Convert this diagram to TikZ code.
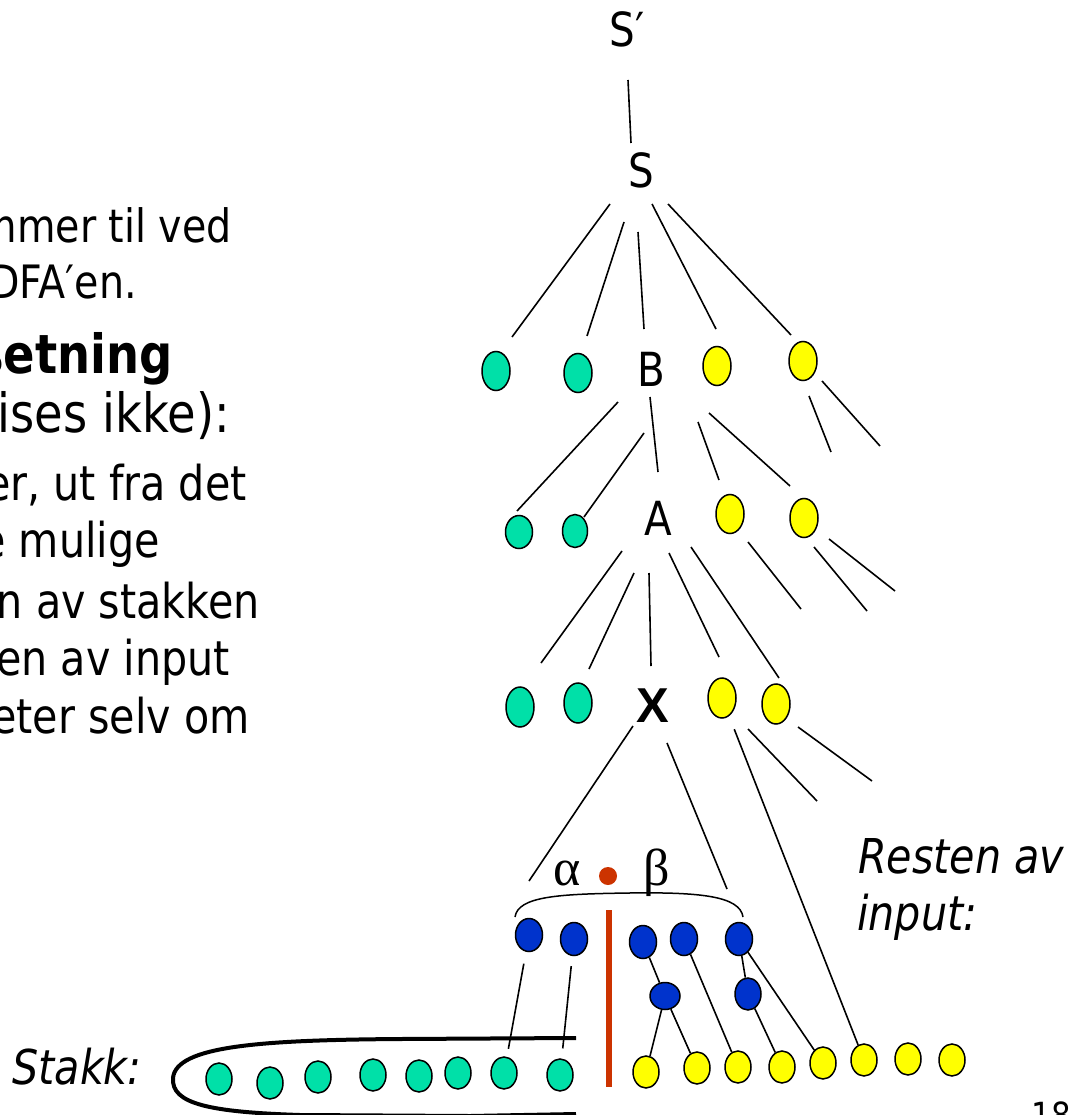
\documentclass[tikz,border=0pt]{standalone}
\usepackage{fontspec}
\setmainfont{DejaVu Sans}[FakeStretch=0.86]
\newfontfamily\grk{Liberation Serif}
\newfontfamily\arl{Liberation Sans}
\usetikzlibrary{shapes.geometric,calc}
\definecolor{tgreen}{HTML}{00E0A8}
\definecolor{tyellow}{HTML}{FFFF00}
\definecolor{tblue}{HTML}{0033CC}
\definecolor{tred}{HTML}{CC3300}
\begin{document}
\begin{tikzpicture}[x=1pt,y=-1pt,
  edge/.style={line width=1.6pt, black},
  oval/.style={ellipse, draw=black, line width=1.5pt, inner sep=0pt, minimum width=28pt, minimum height=39pt},
  gr/.style={oval, fill=tgreen},
  ye/.style={oval, fill=tyellow},
  bl/.style={oval, fill=tblue},
  small/.style={minimum width=26pt, minimum height=32pt},
  lab/.style={font=\fontsize{47}{55}\selectfont, inner sep=0pt, anchor=base},
  bigtxt/.style={font=\fontsize{54}{60}\selectfont, inner sep=0pt, anchor=base east},
  smtxt/.style={font=\fontsize{48}{55}\selectfont, inner sep=0pt, anchor=base east},
  toptxt/.style={font=\fontsize{46}{55}\selectfont, inner sep=0pt, anchor=base east},
  ittxt/.style={font=\fontsize{48}{55}\selectfont\itshape, inner sep=0pt, anchor=base west}]
\useasboundingbox (0,0) rectangle (1079,1115);
\clip (0,0) rectangle (1079,1115);

% left text (cut off at the left edge)
\node[toptxt] (t1) at (232,242) {mmer til ved};
\node[toptxt] (t2) at (137,298) {DFA′en.};
\node[bigtxt, font=\fontsize{54}{60}\selectfont\bfseries] (t3) at (173,373) {setning};
\node[bigtxt] (t4) at (230,432) {ises ikke):};
\node[smtxt] (t5) at (247,500) {er, ut fra det};
\node[smtxt] (t6) at (160,557) {e mulige};
\node[smtxt] (t7) at (260,618) {n av stakken};
\node[smtxt] (t8) at (230,675) {en av input};
\node[smtxt] (t9) at (250,733) {eter selv om};

% tree labels
\node[lab] (Sp) at (627,47) {S′};
\node[lab] (S) at (641,188) {S};
\node[lab] (B) at (651,386) {B};
\node[lab] (A) at (658,535) {A};
\node[lab, font=\fontsize{49}{55}\selectfont\arl\bfseries] (X) at (653,722) {X};

% level B
\node[gr] (gB1) at (496,371) {};
\node[gr] (gB2) at (578,373) {};
\node[ye] (yB1) at (717,366) {};
\node[ye] (yB2) at (803,361) {};
% level A
\node[gr, minimum width=27pt, minimum height=33pt] (gA1) at (519,532) {};
\node[gr, minimum width=25pt, minimum height=33pt] (gA2) at (575,531) {};
\node[ye] (yA1) at (730,514) {};
\node[ye] (yA2) at (804,518) {};
% level X
\node[gr, minimum height=40pt] (gX1) at (520,707) {};
\node[gr, minimum height=40pt] (gX2) at (578,703) {};
\node[ye, minimum height=40pt] (yX1) at (722,698) {};
\node[ye, minimum height=40pt] (yX2) at (776,704) {};

% alpha . beta
\node[lab, font=\fontsize{52}{55}\selectfont\grk] (al) at (567,885) {α};
\node[lab, font=\fontsize{52}{55}\selectfont\grk] (be) at (657,885) {β};
\node[circle, fill=tred, minimum size=18pt, inner sep=0pt] (dot) at (608,876) {};
\coordinate (brL) at (515,917);
\coordinate (brM) at (629,893);
\coordinate (brR) at (743,917);
\draw[line width=1.5pt] (brL) .. controls (518,896) and (560,894) .. (brM)
      .. controls (700,892) and (740,896) .. (brR);

% blue nodes
\node[bl, minimum width=27pt, minimum height=33pt] (b1) at (529,935) {};
\node[bl, minimum width=27pt, minimum height=33pt] (b2) at (574,939) {};
\node[bl, minimum width=27pt, minimum height=33pt] (b3) at (643,942) {};
\node[bl, minimum width=27pt, minimum height=33pt] (b4) at (684,939) {};
\node[bl, minimum width=27pt, minimum height=33pt] (b5) at (739,939) {};
\node[bl, minimum width=30pt, minimum height=27pt] (b6) at (665,996) {};
\node[bl, minimum width=26pt, minimum height=32pt] (b7) at (748,994) {};

% red separator
\coordinate (rt) at (609,910);
\coordinate (rb) at (609,1087);
\draw[tred, line width=6.5pt] (rt) -- (rb);

% bottom input (yellow)
\foreach \i/\px/\py in {1/646/1072,2/697/1068,3/738/1067,4/782/1067,5/823/1063,6/864/1060,7/908/1059,8/952/1060}
  \node[ye, small] (y\i) at (\px,\py) {};
% stack (green)
\foreach \i/\px/\py in {1/219/1079,2/270/1083,3/318/1077,4/373/1075,5/419/1076,6/458/1073,7/504/1073,8/560/1075}
  \node[gr, small] (g\i) at (\px,\py) {};

% stack outline
\coordinate (stA) at (576,1038);
\coordinate (stB) at (576,1114);
\draw[line width=4pt] (stA) -- (400,1039) .. controls (260,1040) and (176,1046) .. (173,1078)
   .. controls (171,1104) and (210,1112) .. (300,1115) -- (470,1116) -- (stB);

% tree edges with free ends
\foreach \i/\ax/\ay/\bx/\by in {
  0/628/80/631/143,
  1/610/204/512/337, 2/624/222/587/336, 3/638/232/644/329, 4/652/204/716/329, 5/668/204/791/335,
  6/618/402/517/511, 7/644/433/584/517, 8/650/397/658/472, 9/698/422/719/480, 10/709/413/790/486,
  11/809/396/831/452, 12/822/381/880/446,
  13/622/551/541/663, 14/634/573/589/669, 15/649/573/651/666, 16/669/553/719/657, 17/691/547/779/678,
  18/748/542/801/609, 19/814/547/867/611, 20/829/539/895/591,
  21/633/726/529/881, 22/667/743/727/889,
  24/748/729/817/801, 25/798/727/872/781}
{
  \coordinate (e\i a) at (\ax,\ay);
  \coordinate (e\i b) at (\bx,\by);
  \draw[edge] (e\i a) -- (e\i b);
}

% node to node connectors
\draw[edge, shorten <=14pt] (yX1) -- (y6);
\draw[edge, shorten <=12pt, shorten >=8pt] (b1) -- (g7);
\draw[edge, shorten <=10pt, shorten >=10pt] (b2) -- (g8);
\draw[edge] (b3) -- (b6);
\draw[edge] (b6) -- (y1);
\draw[edge] (b6) -- (y2);
\draw[edge] (b4) -- (y3);
\draw[edge] (b5) -- (b7);
\draw[edge] (b5) -- (y5);
\draw[edge] (b7) -- (y4);

% labels
\node[ittxt] (rest1) at (858,873) {Resten av};
\node[ittxt] (rest2) at (857,930) {input:};
\node[ittxt, anchor=base east] (stakk) at (142,1084) {Stakk:};
\node[lab, font=\fontsize{36}{40}\selectfont] (pg) at (1051,1128) {18};
\end{tikzpicture}
\end{document}
